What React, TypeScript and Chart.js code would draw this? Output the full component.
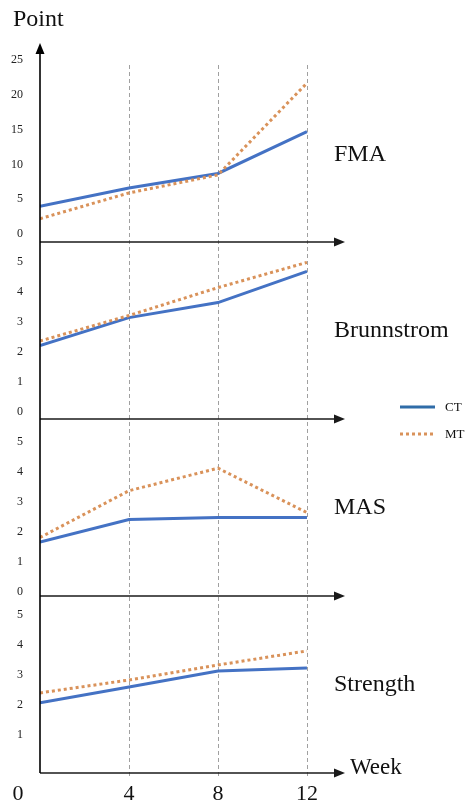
import React, { useEffect, useRef } from "react";
import { Chart, registerables } from "chart.js";

Chart.register(...registerables);

// ---------- data ----------
const weeks = [0, 4, 8, 12];
const weekLabels = ["0", "4", "8", "12"];
const seriesNames = ["CT", "MT"];
const panelNames = ["FMA", "Brunnstrom", "MAS", "Strength"];

const fmaCT = [4.0, 6.6, 8.7, 14.7];
const fmaMT = [2.2, 5.9, 8.5, 21.7];
const brunnstromCT = [2.2, 3.13, 3.63, 4.67];
const brunnstromMT = [2.35, 3.2, 4.13, 4.97];
const masCT = [1.65, 2.4, 2.47, 2.47];
const masMT = [1.8, 3.36, 4.11, 2.63];
const strengthCT = [2.07, 2.6, 3.13, 3.23];
const strengthMT = [2.4, 2.83, 3.33, 3.8];

const fmaTicks = [0, 5, 10, 15, 20, 25];
const scoreTicks = [0, 1, 2, 3, 4, 5];
const strengthTicks = [1, 2, 3, 4, 5];

const xTitle = "Week";
const yTitle = "Point";

// ---------- styles ----------
const SERIF = "'Liberation Serif', 'Times New Roman', serif";
const CT_COLOR = "#4472C4";
const MT_COLOR = "#D9925A";

const panelIds = ["yFMA", "yBrun", "yMAS", "yStr"];
const panelSeries = [
  [fmaCT, fmaMT],
  [brunnstromCT, brunnstromMT],
  [masCT, masMT],
  [strengthCT, strengthMT],
];
const panelTicks = [fmaTicks, scoreTicks, scoreTicks, strengthTicks];
const panelRanges = [
  [-1.15, 27.45],
  [-0.25, 5.65],
  [-0.15, 5.75],
  [-0.27, 5.63],
];
const panelWeights = [199, 177, 177, 177];
const panelLabelFrac = [0.56, 0.5, 0.5, 0.5];

function toPoints(vals: number[]) {
  return weeks.map((w, i) => ({ x: w, y: vals[i] }));
}

function arrowLine(
  ctx: CanvasRenderingContext2D,
  x1: number,
  y1: number,
  x2: number,
  y2: number,
  color: string
) {
  const ang = Math.atan2(y2 - y1, x2 - x1);
  const len = 11;
  const half = 4.5;
  ctx.save();
  ctx.strokeStyle = color;
  ctx.fillStyle = color;
  ctx.lineWidth = 1.6;
  ctx.beginPath();
  ctx.moveTo(x1, y1);
  ctx.lineTo(x2 - Math.cos(ang) * (len - 2), y2 - Math.sin(ang) * (len - 2));
  ctx.stroke();
  ctx.beginPath();
  ctx.moveTo(x2, y2);
  ctx.lineTo(
    x2 - Math.cos(ang) * len - Math.sin(ang) * half,
    y2 - Math.sin(ang) * len + Math.cos(ang) * half
  );
  ctx.lineTo(
    x2 - Math.cos(ang) * len + Math.sin(ang) * half,
    y2 - Math.sin(ang) * len - Math.cos(ang) * half
  );
  ctx.closePath();
  ctx.fill();
  ctx.restore();
}

const decorPlugin = {
  id: "decor",
  beforeDatasetsDraw(chart: any) {
    const { ctx, chartArea, scales } = chart;
    const xs = scales.x;
    ctx.save();
    ctx.strokeStyle = "#a0a0a0";
    ctx.lineWidth = 1;
    ctx.setLineDash([4, 3]);
    weeks.slice(1).forEach((w) => {
      const px = Math.round(xs.getPixelForValue(w)) + 0.5;
      ctx.beginPath();
      ctx.moveTo(px, chartArea.top + 22);
      ctx.lineTo(px, chartArea.bottom + 4);
      ctx.stroke();
    });
    ctx.restore();
  },
  afterDraw(chart: any) {
    const { ctx, chartArea, scales } = chart;
    const xs = scales.x;
    const x0 = xs.getPixelForValue(0);

    // horizontal axes with arrows
    panelIds.forEach((id) => {
      const s = scales[id];
      arrowLine(ctx, x0, s.bottom, chartArea.right, s.bottom, "#1a1a1a");
    });
    // vertical axis with arrow
    arrowLine(ctx, x0, chartArea.bottom, x0, chartArea.top, "#000000");

    ctx.save();
    ctx.fillStyle = "#111111";
    ctx.textBaseline = "middle";

    // panel labels
    ctx.font = `24px ${SERIF}`;
    ctx.textAlign = "left";
    panelIds.forEach((id, i) => {
      const s = scales[id];
      ctx.fillText(panelNames[i], 334, s.top + panelLabelFrac[i] * (s.bottom - s.top));
    });

    // axis titles
    ctx.font = `24px ${SERIF}`;
    ctx.fillText(yTitle, 13, 20);
    ctx.font = `23px ${SERIF}`;
    ctx.fillText(xTitle, chartArea.right + 5, chartArea.bottom - 5);

    // x tick labels
    ctx.font = `22px ${SERIF}`;
    ctx.textAlign = "center";
    weeks.forEach((w, i) => {
      let px = xs.getPixelForValue(w);
      if (w === 0) px -= 22;
      ctx.fillText(weekLabels[i], px, chartArea.bottom + 21);
    });

    // legend
    const legendY = [407, 434];
    seriesNames.forEach((name, i) => {
      const y = legendY[i];
      ctx.save();
      ctx.lineWidth = 3;
      if (i === 0) {
        ctx.strokeStyle = "#2F6CA8";
        ctx.setLineDash([]);
      } else {
        ctx.strokeStyle = MT_COLOR;
        ctx.setLineDash([3, 3]);
      }
      ctx.beginPath();
      ctx.moveTo(400, y);
      ctx.lineTo(435, y);
      ctx.stroke();
      ctx.restore();
      ctx.font = `13px ${SERIF}`;
      ctx.textAlign = "left";
      ctx.fillStyle = "#111111";
      ctx.fillText(name, 445, y + 1);
    });

    ctx.restore();
  },
};

export default function App() {
  const canvasRef = useRef<HTMLCanvasElement | null>(null);

  useEffect(() => {
    if (!canvasRef.current) return;

    const datasets: any[] = [];
    panelIds.forEach((id, p) => {
      panelSeries[p].forEach((vals, k) => {
        datasets.push({
          label: seriesNames[k],
          data: toPoints(vals),
          yAxisID: id,
          xAxisID: "x",
          borderColor: k === 0 ? CT_COLOR : MT_COLOR,
          backgroundColor: k === 0 ? CT_COLOR : MT_COLOR,
          borderWidth: 3,
          borderDash: k === 0 ? [] : [3, 3],
          borderCapStyle: "butt",
          pointRadius: 0,
          tension: 0,
          fill: false,
          order: k === 0 ? 1 : 0,
        });
      });
    });

    const scales: any = {
      x: {
        type: "linear",
        min: 0,
        max: 13.71,
        display: false,
      },
    };
    panelIds.forEach((id, p) => {
      scales[id] = {
        type: "linear",
        position: "left",
        stack: "panels",
        stackWeight: panelWeights[p],
        weight: panelIds.length - p,
        min: panelRanges[p][0],
        max: panelRanges[p][1],
        grid: { display: false, drawTicks: false },
        border: { display: false },
        ticks: {
          padding: 17,
          color: "#222222",
          font: { family: SERIF, size: 12 },
          autoSkip: false,
        },
        afterBuildTicks: (s: any) => {
          s.ticks = panelTicks[p].map((v) => ({ value: v }));
        },
        afterFit: (s: any) => {
          s.width = 40;
        },
      };
    });

    const chart = new Chart(canvasRef.current, {
      type: "line",
      data: { datasets },
      options: {
        animation: false,
        responsive: false,
        maintainAspectRatio: false,
        layout: { padding: { top: 43, bottom: 30, left: 0, right: 126 } },
        plugins: {
          legend: { display: false },
          tooltip: { enabled: false },
        },
        scales,
      },
      plugins: [decorPlugin],
    });

    return () => chart.destroy();
  }, []);

  return (
    <div
      style={{
        position: "fixed",
        left: 0,
        top: 0,
        width: 471,
        height: 803,
        background: "#ffffff",
      }}
    >
      <canvas ref={canvasRef} width={471} height={803} />
    </div>
  );
}
